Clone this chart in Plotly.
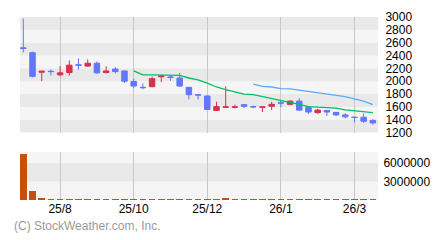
import plotly.graph_objects as go

# ---- data (weekly candles) ----
opens  = [2520, 2445, 2140, 2155, 2100, 2135, 2255, 2235, 2280, 2135, 2190, 2160, 1995, 1905,
          1915, 2070, 2065, 2050, 1905, 1790, 1770, 1545, 1595, 1595, 1635, 1605, 1595, 1610,
          1665, 1640, 1690, 1595, 1510, 1545, 1515, 1475, 1440, 1440, 1390]
highs  = [2975, 2460, 2160, 2185, 2235, 2325, 2355, 2340, 2310, 2235, 2220, 2165, 2040, 1965,
          2070, 2085, 2090, 2130, 1910, 1800, 1775, 1680, 1920, 1635, 1640, 1620, 1605, 1680,
          1695, 1700, 1735, 1610, 1570, 1550, 1520, 1500, 1442, 1500, 1410]
lows   = [2450, 2060, 2000, 2090, 2075, 2090, 2180, 2225, 2120, 2120, 2120, 1970, 1895, 1875,
          1905, 1985, 2005, 1910, 1715, 1715, 1550, 1535, 1590, 1575, 1580, 1580, 1520, 1550,
          1595, 1630, 1535, 1490, 1495, 1460, 1460, 1420, 1360, 1350, 1325]
closes = [2510, 2075, 2155, 2150, 2130, 2250, 2250, 2280, 2130, 2160, 2150, 2000, 1925, 1900,
          2040, 2080, 2060, 1925, 1790, 1785, 1560, 1605, 1600, 1600, 1610, 1600, 1600, 1640,
          1660, 1690, 1550, 1520, 1550, 1520, 1475, 1445, 1435, 1375, 1350]
ma13 = [None]*12 + [2160, 2100, 2100, 2100, 2095, 2090, 2050, 2020, 1970, 1910, 1870, 1830,
                    1800, 1790, 1760, 1730, 1710, 1680, 1640, 1605, 1600, 1595, 1580, 1555,
                    1540, 1525, 1510]
ma26 = [None]*25 + [1955, 1920, 1910, 1885, 1880, 1860, 1840, 1820, 1805, 1785, 1760, 1725,
                    1690, 1635]
volumes = [7400000, 1450000, 400000, 150000, 150000, 150000, 150000, 150000, 150000, 40000,
           40000, 150000, 150000, 40000, 40000, 40000, 40000, 150000, 150000, 40000,
           150000, 150000, 350000, 150000, 40000, 40000, 40000, 150000, 40000, 40000,
           150000, 150000, 40000, 40000, 40000, 150000, 40000, 40000, 40000]
weeks = list(range(len(opens)))
tick_pos = [4, 12, 20, 28, 36]
tick_labels = ["25/8", "25/10", "25/12", "26/1", "26/3"]
price_ticks = [1200, 1400, 1600, 1800, 2000, 2200, 2400, 2600, 2800, 3000]
vol_ticks = [3000000, 6000000]

BLUE = "#6276ff"
RED = "#d8304f"
DARK = "#e9e9e9"
LIGHT = "#f5f5f5"
FONT = "Liberation Sans"

fig = go.Figure()
fig.add_trace(go.Candlestick(
    x=weeks, open=opens, high=highs, low=lows, close=closes,
    increasing=dict(line=dict(color=RED, width=1), fillcolor=RED),
    decreasing=dict(line=dict(color=BLUE, width=1), fillcolor=BLUE),
    whiskerwidth=0, xaxis="x", yaxis="y", hoverinfo="skip"))
fig.add_trace(go.Scatter(x=weeks, y=ma13, mode="lines",
                         line=dict(color="#00c060", width=1.3), xaxis="x", yaxis="y"))
fig.add_trace(go.Scatter(x=weeks, y=ma26, mode="lines",
                         line=dict(color="#5aaaff", width=1.3), xaxis="x", yaxis="y"))
fig.add_trace(go.Bar(x=weeks, y=volumes, marker=dict(color="#c8500f", line=dict(width=0)),
                     width=0.72, xaxis="x2", yaxis="y2"))

shapes = []
# price bands
for i in range(len(price_ticks) - 1):
    lo, hi = price_ticks[i], price_ticks[i + 1]
    shapes.append(dict(type="rect", xref="x domain", yref="y", x0=0, x1=1, y0=lo, y1=hi,
                       fillcolor=DARK if i % 2 == 0 else LIGHT, line=dict(width=0), layer="below"))
vol_top = 7800000
vb = [0] + vol_ticks + [vol_top]
for i in range(len(vb) - 1):
    shapes.append(dict(type="rect", xref="x2 domain", yref="y2", x0=0, x1=1, y0=vb[i], y1=vb[i + 1],
                       fillcolor=DARK if i % 2 == 1 else LIGHT, line=dict(width=0), layer="below"))

xr = [-0.36, 38.56]
fig.update_layout(
    width=440, height=240,
    margin=dict(l=20, r=60, t=10, b=40),
    paper_bgcolor="white", plot_bgcolor=LIGHT,
    showlegend=False, shapes=shapes, bargap=0, boxgap=0.15,
    font=dict(family=FONT, size=12, color="black"),
    xaxis=dict(domain=[0, 1], anchor="y", range=xr, tickvals=tick_pos, ticktext=tick_labels,
               showticklabels=False, showgrid=True, gridcolor="#c8c8c8", gridwidth=1,
               zeroline=False, rangeslider=dict(visible=False), ticks="", showline=False),
    yaxis=dict(domain=[70/190, 1], anchor="x", range=[1200, 3000], side="right",
               tickvals=price_ticks, showgrid=False, zeroline=False, ticks="outside",
               ticklen=4, tickcolor="rgba(0,0,0,0)", fixedrange=True),
    xaxis2=dict(domain=[0, 1], anchor="y2", range=xr, tickvals=tick_pos, ticktext=tick_labels,
                showgrid=True, gridcolor="#c8c8c8", gridwidth=1, zeroline=False, ticks="",
                showline=False),
    yaxis2=dict(domain=[0, 50/190], anchor="x2", range=[0, vol_top], side="right",
                tickvals=vol_ticks, tickformat="d", showgrid=False, zeroline=False,
                ticks="outside", ticklen=2, tickcolor="rgba(0,0,0,0)"),
    annotations=[dict(text="(C) StockWeather.com, Inc.", xref="paper", yref="paper",
                      x=-8/360, y=-27/190, xanchor="left", yanchor="middle", showarrow=False,
                      font=dict(family=FONT, size=12, color="#9a9a9a"))],
)
fig.write_html("out.html")
